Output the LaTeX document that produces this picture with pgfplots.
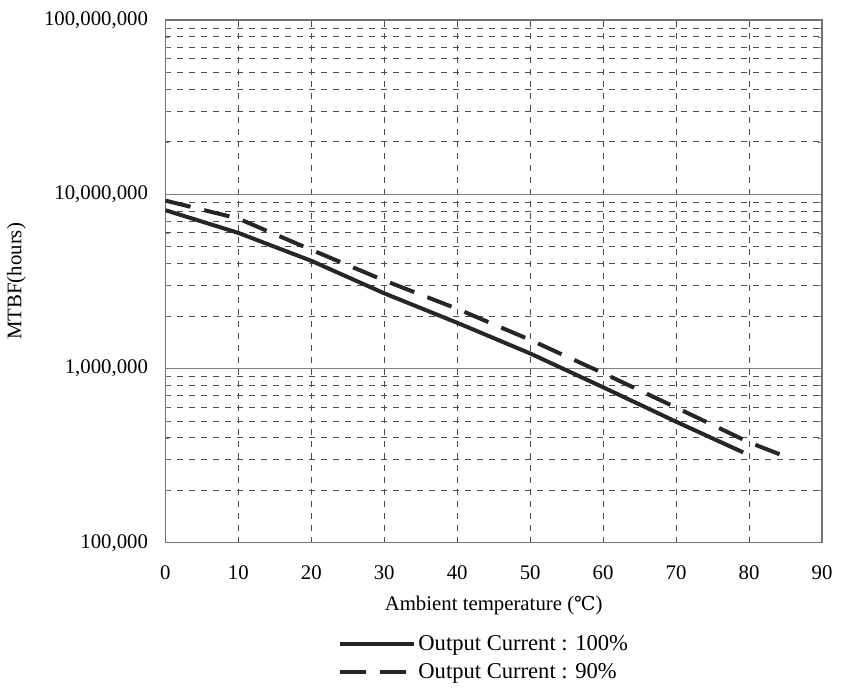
\documentclass[border=0pt]{standalone}
\usepackage{fontspec}
\setmainfont{Liberation Serif}
\newfontfamily\dejavu{DejaVu Serif}
\usepackage{pgfplots}
\pgfplotsset{compat=1.18}

\begin{document}
\fontsize{10.4}{12.5}\selectfont
\begin{tikzpicture}
\begin{axis}[
  name=ax,
  scale only axis,
  width=328.5pt, height=261.5pt,
  ymode=log, log basis y=10,
  xmin=0, xmax=90, ymin=1e5, ymax=1e8,
  xtick={0,10,...,90},
  ytick={1e5,1e6,1e7,1e8},
  minor ytick={2e5,3e5,4e5,5e5,6e5,7e5,8e5,9e5,
               2e6,3e6,4e6,5e6,6e6,7e6,8e6,9e6,
               2e7,3e7,4e7,5e7,6e7,7e7,8e7,9e7},
  yticklabels={{100,000},{1,000,000},{10,000,000},{100,000,000}},
  /pgf/number format/assume math mode=true,
  tick label style={font=\fontsize{10.4}{12.5}\selectfont},
  label style={font=\fontsize{10.4}{12.5}\selectfont},
  yticklabel style={xshift=-5pt},
  xticklabel style={yshift=-8pt},
  major tick length=0pt, minor tick length=2pt,
  axis line style={draw=black!55, line width=0.6pt},
  xmajorgrids, ymajorgrids, yminorgrids,
  major x grid style={dashed, black!70, line width=0.4pt},
  major y grid style={solid, black!50, line width=0.6pt},
  minor y grid style={dashed, black!70, line width=0.4pt},
  xlabel={Ambient temperature ({\dejavu\fontsize{9.6}{12}\selectfont ℃})},
  ylabel={MTBF(hours)},
  xlabel style={yshift=-1pt},
  ylabel style={yshift=2pt},
  legend style={at={(axis description cs:0.263,-0.172)}, anchor=north west,
    draw=none, fill=none, inner sep=0pt, row sep=3pt,
    font=\fontsize{11.3}{13.5}\selectfont,
    nodes={inner sep=1pt}},
  legend cell align=left,
  legend image code/.code={\draw[#1] (0pt,0pt) -- (37pt,0pt);},
]
\addplot[black!85, line width=2pt] coordinates {
  (0,8.1e6) (10,6.0e6) (20,4.15e6) (30,2.7e6) (40,1.83e6)
  (50,1.22e6) (60,7.8e5) (70,4.95e5) (79.2,3.3e5)
};
\addlegendentry{Output Current : 100\%}
\addplot[black!85, line width=2pt, dash pattern=on 13pt off 7pt] coordinates {
  (0,9.2e6) (10,7.25e6) (20,4.8e6) (30,3.2e6) (40,2.2e6)
  (50,1.46e6) (60,9.4e5) (70,5.97e5) (80,3.77e5) (85.2,3.1e5)
};
\addlegendentry{Output Current : 90\%}
\end{axis}
\path ([shift={(-82.5pt,-72.5pt)}]ax.south west) rectangle ([shift={(12.5pt,10pt)}]ax.north east);
\end{tikzpicture}
\end{document}
